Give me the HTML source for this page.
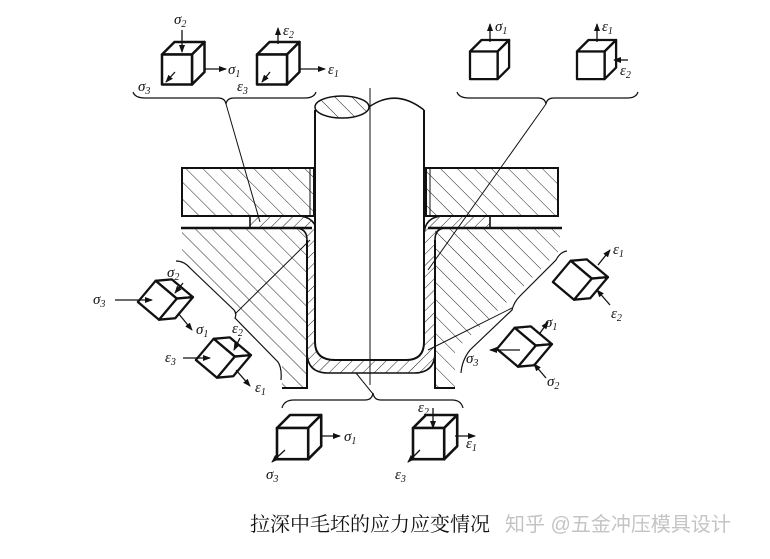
<!DOCTYPE html>
<html><head><meta charset="utf-8"><style>
html,body{margin:0;padding:0;background:#fff;width:770px;height:559px;overflow:hidden}
svg{display:block}
text{font-family:"Liberation Serif",serif;font-style:italic;font-size:15px;fill:#111}
.cap{font-family:"Liberation Serif","Noto Serif CJK SC",serif;font-style:normal;font-size:20px}
</style></head><body>
<svg width="770" height="559" viewBox="0 0 770 559" xmlns="http://www.w3.org/2000/svg">
<defs>
<pattern id="h" patternUnits="userSpaceOnUse" width="12" height="12" patternTransform="rotate(-45)">
<line x1="0" y1="0" x2="0" y2="12" stroke="#222" stroke-width="1"/>
</pattern>
<pattern id="h2" patternUnits="userSpaceOnUse" width="8" height="8" patternTransform="rotate(45)">
<line x1="0" y1="0" x2="0" y2="8" stroke="#222" stroke-width="1"/>
</pattern>
<g id="cube" fill="#fff" stroke="#111" stroke-width="2" stroke-linejoin="round">
<polygon points="0,10 10,0 34,0 24,10"/>
<polygon points="24,10 34,0 34,24 24,34"/>
<rect x="0" y="10" width="24" height="24"/>
</g>
<marker id="a" markerWidth="8" markerHeight="6" refX="7" refY="3" orient="auto" markerUnits="userSpaceOnUse"><path d="M0,0 L8,3 L0,6z" fill="#111"/></marker>
</defs>
<g stroke="#111" fill="none">
<rect x="182" y="168" width="132" height="48" fill="url(#h)" stroke-width="2"/>
<rect x="426" y="168" width="132" height="48" fill="url(#h)" stroke-width="2"/>
<line x1="310" y1="168" x2="310" y2="216" stroke-width="1"/>
<line x1="430" y1="168" x2="430" y2="216" stroke-width="1"/>
<polygon points="182,228 307,228 307,388 282,388 282,350 230,300 182,250" fill="url(#h)" stroke="none"/>
<polygon points="435,228 560,228 560,250 520,290 455,350 455,388 435,388" fill="url(#h)" stroke="none"/>
<line x1="181" y1="228" x2="312" y2="228" stroke-width="2.5"/>
<line x1="428" y1="228" x2="562" y2="228" stroke-width="2.5"/>
<polyline points="307,240 307,388 282,388" stroke-width="2"/>
<polyline points="435,240 435,388 455,388" stroke-width="2"/>
<path d="M250,216 L297,216 Q317,216 317,236 L317,342 Q317,360 335,360 L406,360 Q424,360 424,342 L424,236 Q424,216 444,216 L490,216 L490,228 L446,228 Q435,228 435,240 L435,352 Q435,373 414,373 L328,373 Q307,373 307,352 L307,240 Q307,228 295,228 L250,228 Z" fill="url(#h2)" stroke-width="1.6"/>
<path d="M315,110 L315,342 Q315,360 335,360 L406,360 Q424,360 424,342 L424,110" fill="#fff" stroke-width="2"/>
<ellipse cx="342" cy="107" rx="27" ry="11" fill="url(#h)" stroke-width="1.5"/>
<path d="M369,107 Q396,88 424,110" stroke-width="1.5"/>
<line x1="370" y1="88" x2="370" y2="385" stroke-width="1"/>
<path d="M133,92 Q135,98 145,98 L218,98 Q225,98 226,104 Q227,98 234,98 L305,98 Q314,98 316,92" stroke-width="1.2"/>
<path d="M457,92 Q459,98 469,98 L538,98 Q545,98 546,104 Q547,98 554,98 L628,98 Q636,98 638,92" stroke-width="1.2"/>
<path d="M282,408 Q284,400 294,400 L365,400 Q372,400 373,393 Q374,400 381,400 L452,400 Q461,400 463,408" stroke-width="1.2"/>
<path d="M176,261 Q184,261 190,268 L234,310 Q237,314 235,318 L278,362 Q282,368 281,380" stroke-width="1.2"/>
<path d="M567,251 Q560,252 556,260 L520,296 Q514,302 512,310 L470,350 Q462,360 461,373" stroke-width="1.2"/>
<line x1="226" y1="104" x2="260" y2="222" stroke-width="1"/>
<line x1="546" y1="104" x2="428" y2="270" stroke-width="1"/>
<line x1="235" y1="314" x2="310" y2="240" stroke-width="1"/>
<line x1="512" y1="308" x2="428" y2="350" stroke-width="1"/>
<line x1="373" y1="394" x2="356" y2="373" stroke-width="1"/>
</g>
<use href="#cube" transform="translate(162,42) scale(1.25)"/>
<use href="#cube" transform="translate(257,42) scale(1.25)"/>
<use href="#cube" transform="translate(470,40) scale(1.15)"/>
<use href="#cube" transform="translate(577,40) scale(1.15)"/>
<use href="#cube" transform="translate(277,415) scale(1.3)"/>
<use href="#cube" transform="translate(413,415) scale(1.3)"/>
<use href="#cube" transform="translate(163,272) rotate(40) scale(1.15)"/>
<use href="#cube" transform="translate(221,330) rotate(40) scale(1.15)"/>
<use href="#cube" transform="translate(578,252) rotate(40) scale(1.15)"/>
<use href="#cube" transform="translate(522,319) rotate(40) scale(1.15)"/>
<g stroke="#111" stroke-width="1.3" fill="none">
<line x1="182" y1="30" x2="182" y2="52" marker-end="url(#a)"/>
<line x1="205" y1="69" x2="226" y2="69" marker-end="url(#a)"/>
<line x1="175" y1="72" x2="166" y2="82" marker-end="url(#a)"/>
<line x1="278" y1="44" x2="278" y2="28" marker-end="url(#a)"/>
<line x1="300" y1="69" x2="325" y2="69" marker-end="url(#a)"/>
<line x1="270" y1="72" x2="262" y2="82" marker-end="url(#a)"/>
<line x1="490" y1="42" x2="490" y2="24" marker-end="url(#a)"/>
<line x1="597" y1="42" x2="597" y2="24" marker-end="url(#a)"/>
<line x1="628" y1="60" x2="614" y2="60" marker-end="url(#a)"/>
<line x1="320" y1="436" x2="340" y2="436" marker-end="url(#a)"/>
<line x1="285" y1="450" x2="272" y2="462" marker-end="url(#a)"/>
<line x1="433" y1="408" x2="433" y2="428" marker-end="url(#a)"/>
<line x1="455" y1="436" x2="475" y2="436" marker-end="url(#a)"/>
<line x1="420" y1="450" x2="408" y2="462" marker-end="url(#a)"/>
<line x1="115" y1="300" x2="152" y2="300" marker-end="url(#a)"/>
<line x1="183" y1="283" x2="175" y2="293" marker-end="url(#a)"/>
<line x1="178" y1="313" x2="192" y2="330" marker-end="url(#a)"/>
<line x1="183" y1="358" x2="210" y2="358" marker-end="url(#a)"/>
<line x1="240" y1="338" x2="234" y2="350" marker-end="url(#a)"/>
<line x1="236" y1="370" x2="250" y2="386" marker-end="url(#a)"/>
<line x1="598" y1="265" x2="610" y2="250" marker-end="url(#a)"/>
<line x1="610" y1="305" x2="597" y2="290" marker-end="url(#a)"/>
<line x1="540" y1="333" x2="548" y2="322" marker-end="url(#a)"/>
<line x1="520" y1="350" x2="490" y2="350" marker-end="url(#a)"/>
<line x1="546" y1="378" x2="534" y2="364" marker-end="url(#a)"/>
</g>
<text x="174" y="24">σ<tspan font-size="10" dy="3">2</tspan></text>
<text x="228" y="74">σ<tspan font-size="10" dy="3">1</tspan></text>
<text x="138" y="91">σ<tspan font-size="10" dy="3">3</tspan></text>
<text x="283" y="35">ε<tspan font-size="10" dy="3">2</tspan></text>
<text x="328" y="74">ε<tspan font-size="10" dy="3">1</tspan></text>
<text x="237" y="91">ε<tspan font-size="10" dy="3">3</tspan></text>
<text x="495" y="31">σ<tspan font-size="10" dy="3">1</tspan></text>
<text x="602" y="31">ε<tspan font-size="10" dy="3">1</tspan></text>
<text x="620" y="75">ε<tspan font-size="10" dy="3">2</tspan></text>
<text x="93" y="304">σ<tspan font-size="10" dy="3">3</tspan></text>
<text x="167" y="277">σ<tspan font-size="10" dy="3">2</tspan></text>
<text x="196" y="334">σ<tspan font-size="10" dy="3">1</tspan></text>
<text x="165" y="362">ε<tspan font-size="10" dy="3">3</tspan></text>
<text x="232" y="333">ε<tspan font-size="10" dy="3">2</tspan></text>
<text x="255" y="392">ε<tspan font-size="10" dy="3">1</tspan></text>
<text x="613" y="254">ε<tspan font-size="10" dy="3">1</tspan></text>
<text x="611" y="318">ε<tspan font-size="10" dy="3">2</tspan></text>
<text x="545" y="327">σ<tspan font-size="10" dy="3">1</tspan></text>
<text x="466" y="363">σ<tspan font-size="10" dy="3">3</tspan></text>
<text x="547" y="386">σ<tspan font-size="10" dy="3">2</tspan></text>
<text x="344" y="441">σ<tspan font-size="10" dy="3">1</tspan></text>
<text x="266" y="479">σ<tspan font-size="10" dy="3">3</tspan></text>
<text x="418" y="412">ε<tspan font-size="10" dy="3">2</tspan></text>
<text x="466" y="448">ε<tspan font-size="10" dy="3">1</tspan></text>
<text x="395" y="479">ε<tspan font-size="10" dy="3">3</tspan></text>
<text class="cap" x="250" y="531">拉深中毛坯的应力应变情况</text>
<text class="cap" x="505" y="531" style="fill:#c4c4c4;font-family:'Liberation Sans','Noto Sans CJK SC',sans-serif">知乎 @五金冲压模具设计</text>
</svg>
</body></html>
